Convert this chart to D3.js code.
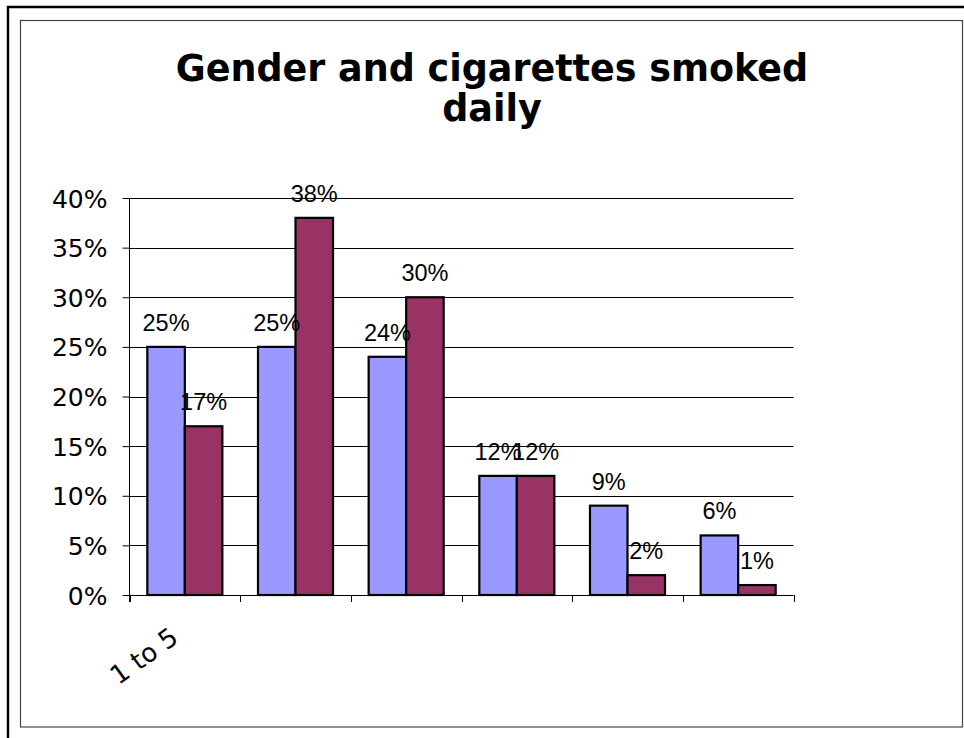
<!DOCTYPE html>
<html>
<head>
<meta charset="utf-8">
<script src="https://cdn.jsdelivr.net/npm/d3@7"></script>
<style>
  html, body { margin: 0; padding: 0; background: #fff; }
  svg { display: block; }
</style>
</head>
<body>
<svg id="chart" width="964" height="738"></svg>
<script>
// Cigarettes smoked per day, share of smokers by gender
const categories = ["1 to 5", "6 to 10", "11 to 15", "16 to 20", "21 to 25", "More than 25"];
const seriesNames = ["Male", "Female"];
const maleValues = [0.25, 0.25, 0.24, 0.12, 0.09, 0.06];
const femaleValues = [0.17, 0.38, 0.30, 0.12, 0.02, 0.01];
const yTicks = [0, 0.05, 0.10, 0.15, 0.20, 0.25, 0.30, 0.35, 0.40];
const titleLines = ["Gender and cigarettes smoked", "daily"];
const colors = ["#9999FF", "#993366"];

const svg = d3.select("#chart");
const W = 964, H = 738;

// Outer frame and inner chart box
svg.append("path")
  .attr("d", `M8,${H + 2} L8,7 L${W + 2},7`)
  .attr("fill", "none").attr("stroke", "#000").attr("stroke-width", 2.4);
svg.append("rect")
  .attr("x", 20.5).attr("y", 20.5).attr("width", 942).attr("height", 706.5)
  .attr("fill", "#fff").attr("stroke", "#444").attr("stroke-width", 1.2);

// Title
const title = svg.append("text")
  .attr("text-anchor", "middle")
  .attr("font-family", "Verdana, 'DejaVu Sans', sans-serif")
  .attr("font-weight", "bold").attr("font-size", 36.5).attr("fill", "#000");
titleLines.forEach((line, i) => {
  title.append("tspan").attr("x", 492).attr("y", 81 + i * 40).text(line);
});

// Plot area
const plot = { left: 129.5, right: 793.5, top: 198, bottom: 595 };

const x = d3.scaleBand()
  .domain(categories)
  .range([plot.left, plot.right])
  .paddingInner(0.322).paddingOuter(0.161);
const xSeries = d3.scaleBand().domain(seriesNames).range([0, x.bandwidth()]).padding(0);
const y = d3.scaleLinear().domain([0, 0.4]).range([plot.bottom, plot.top]);

// Gridlines
svg.append("g").selectAll("line")
  .data(yTicks.filter(t => t > 0))
  .join("line")
  .attr("x1", plot.left).attr("x2", plot.right)
  .attr("y1", d => Math.round(y(d)) + 0.5).attr("y2", d => Math.round(y(d)) + 0.5)
  .attr("stroke", "#000").attr("stroke-width", 1);

// Y axis
const yAxis = svg.append("g")
  .attr("transform", `translate(${plot.left},0)`)
  .call(d3.axisLeft(y).tickValues(yTicks).tickFormat(d3.format(".0%")).tickSize(7).tickPadding(15));
yAxis.select(".domain").attr("stroke", "#000").attr("d", `M0,${plot.top}V${plot.bottom + 7}`);
yAxis.selectAll(".tick line").attr("stroke", "#000");
yAxis.selectAll(".tick text")
  .attr("font-family", "Verdana, 'DejaVu Sans', sans-serif")
  .attr("font-size", 25).attr("fill", "#000").attr("dy", "0.36em");

// X axis line and boundary ticks
const step = x.step();
const boundaries = d3.range(categories.length + 1).map(i => plot.left + i * step);
svg.append("line")
  .attr("x1", plot.left).attr("x2", plot.right)
  .attr("y1", plot.bottom + 0.5).attr("y2", plot.bottom + 0.5)
  .attr("stroke", "#000");
svg.append("g").selectAll("line")
  .data(boundaries)
  .join("line")
  .attr("x1", d => Math.round(d) + 0.5).attr("x2", d => Math.round(d) + 0.5)
  .attr("y1", plot.bottom).attr("y2", plot.bottom + 7)
  .attr("stroke", "#000");

// Category label (only the first label fits at this size)
svg.append("g").selectAll("text")
  .data(categories.filter((c, i) => i === 0))
  .join("text")
  .attr("text-anchor", "end")
  .attr("font-family", "Verdana, 'DejaVu Sans', sans-serif")
  .attr("font-size", 26).attr("fill", "#000")
  .attr("transform", d => `translate(${x(d) + x.bandwidth() / 2 - 5},641) rotate(-36)`)
  .text(d => d);

// Bars
const series = [maleValues, femaleValues];
const barData = [];
series.forEach((vals, s) => {
  vals.forEach((v, i) => barData.push({ cat: categories[i], s: seriesNames[s], idx: s, v }));
});

svg.append("g").selectAll("rect")
  .data(barData)
  .join("rect")
  .attr("x", d => x(d.cat) + xSeries(d.s))
  .attr("y", d => y(d.v))
  .attr("width", xSeries.bandwidth())
  .attr("height", d => y(0) - y(d.v))
  .attr("fill", d => colors[d.idx])
  .attr("stroke", "#000").attr("stroke-width", 2.2);

// Value labels
svg.append("g").selectAll("text")
  .data(barData)
  .join("text")
  .attr("text-anchor", "middle")
  .attr("font-family", "Arial, 'Liberation Sans', sans-serif")
  .attr("font-size", 23.5).attr("fill", "#000")
  .attr("x", d => x(d.cat) + xSeries(d.s) + xSeries.bandwidth() / 2)
  .attr("y", d => y(d.v) - 16)
  .text(d => d3.format(".0%")(d.v));
</script>
</body>
</html>
